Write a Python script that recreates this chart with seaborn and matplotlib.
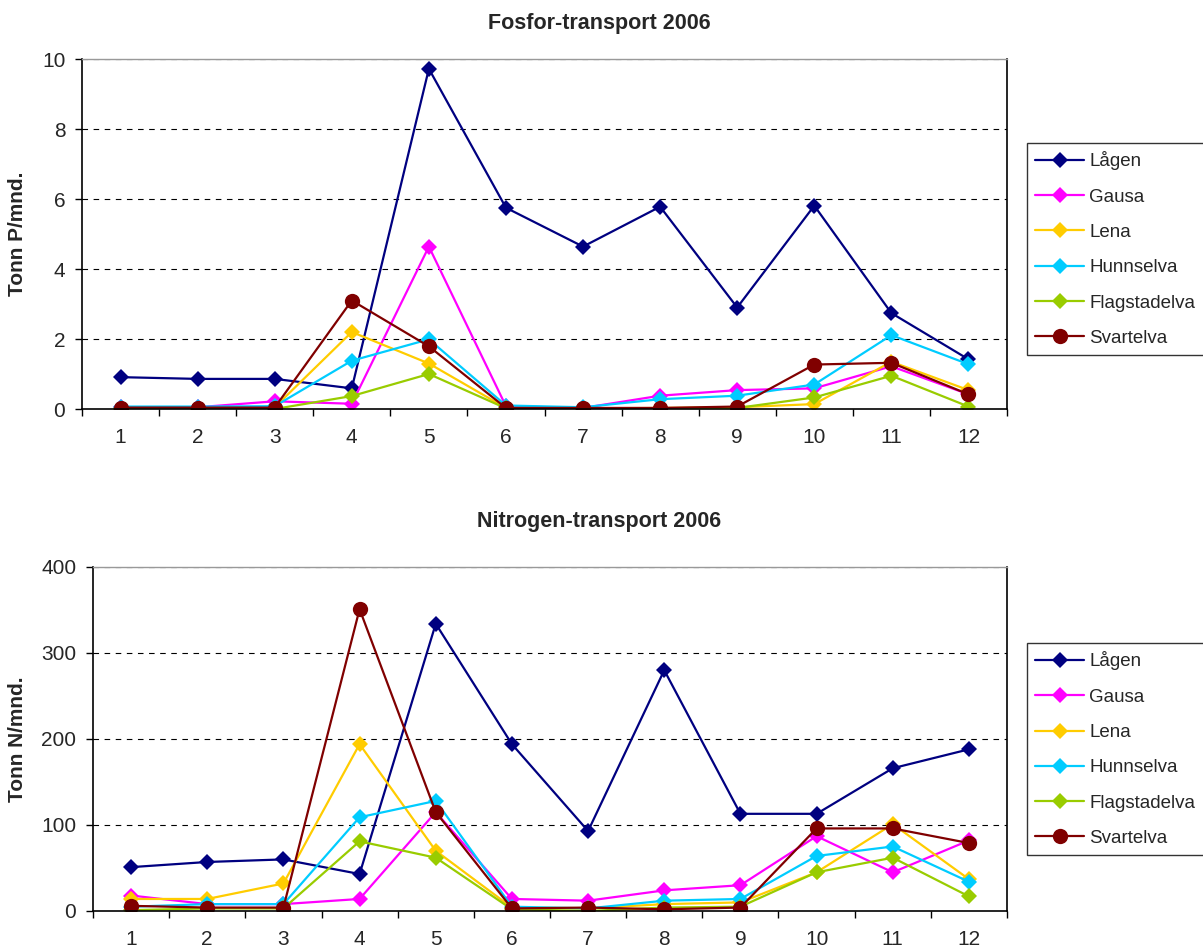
import matplotlib
matplotlib.use("Agg")
import matplotlib.pyplot as plt
import seaborn as sns
import pandas as pd
import numpy as np
from matplotlib.ticker import FixedLocator

sns.set_style("white")
plt.rcParams['font.family'] = ['Liberation Sans', 'DejaVu Sans']

months = list(range(1, 13))
rivers = ["Lågen", "Gausa", "Lena", "Hunnselva", "Flagstadelva", "Svartelva"]

# Fosfor (Tonn P/mnd.)
p_lagen = [0.91, 0.86, 0.86, 0.59, 9.72, 5.75, 4.64, 5.78, 2.90, 5.81, 2.74, 1.42]
p_gausa = [0.05, 0.05, 0.22, 0.15, 4.64, 0.08, 0.03, 0.38, 0.54, 0.59, 1.22, 0.42]
p_lena = [0.02, 0.02, 0.05, 2.20, 1.30, 0.03, 0.02, 0.03, 0.05, 0.14, 1.35, 0.54]
p_hunn = [0.07, 0.07, 0.08, 1.38, 1.99, 0.10, 0.05, 0.28, 0.38, 0.70, 2.11, 1.28]
p_flag = [0.00, 0.00, 0.00, 0.37, 1.00, 0.02, 0.00, 0.02, 0.03, 0.33, 0.95, 0.07]
p_svart = [0.04, 0.04, 0.04, 3.10, 1.79, 0.03, 0.03, 0.03, 0.07, 1.27, 1.32, 0.42]

# Nitrogen (Tonn N/mnd.)
n_lagen = [51, 57, 60, 43, 334, 194, 93, 280, 113, 113, 166, 188]
n_gausa = [18, 8, 8, 14, 115, 14, 12, 24, 30, 87, 45, 82]
n_lena = [14, 14, 32, 194, 70, 4, 3, 8, 10, 45, 101, 37]
n_hunn = [5, 8, 8, 109, 128, 5, 3, 12, 14, 64, 75, 34]
n_flag = [1, 3, 3, 81, 62, 2, 0, 4, 5, 45, 62, 17]
n_svart = [6, 4, 4, 351, 115, 3, 4, 2, 4, 96, 96, 79]

colors = {"Lågen": "#000080", "Gausa": "#FF00FF", "Lena": "#FFCC00",
          "Hunnselva": "#00CCFF", "Flagstadelva": "#99CC00", "Svartelva": "#800000"}
markers = {r: "D" for r in rivers}
markers["Svartelva"] = "o"
msizes = {r: 7.8 for r in rivers}
msizes["Svartelva"] = 11

p_data = [p_lagen, p_gausa, p_lena, p_hunn, p_flag, p_svart]
n_data = [n_lagen, n_gausa, n_lena, n_hunn, n_flag, n_svart]


def make_df(series):
    rows = []
    for r, vals in zip(rivers, series):
        for m, v in zip(months, vals):
            rows.append({"Måned": m, "Verdi": v, "Elv": r})
    return pd.DataFrame(rows)


W, H = 1203, 949
fig = plt.figure(figsize=(W / 100, H / 100), dpi=100)

ax1 = fig.add_axes([82 / W, 1 - 409 / H, (1007 - 82) / W, (409 - 59) / H])
ax2 = fig.add_axes([93 / W, 1 - 911 / H, (1007 - 93) / W, (911 - 567) / H])

TICK_FS = 15
TITLE_FS = 15.5
YLAB_FS = 15
LEG_FS = 13.5


def draw(ax, series, ymax, ystep, ylabel, title, title_y, legend_top):
    df = make_df(series)
    for r in rivers:
        sub = df[df["Elv"] == r]
        sns.lineplot(data=sub, x="Måned", y="Verdi", ax=ax, color=colors[r],
                     marker=markers[r], markersize=msizes[r], markeredgewidth=0,
                     linewidth=1.6, label=r, legend=False)
    ax.set_xlim(0.5, 12.5)
    ax.set_ylim(0, ymax)
    yt = np.arange(0, ymax + ystep / 2, ystep)
    ax.set_yticks(yt)
    ax.set_yticklabels([f"{int(v)}" for v in yt])
    ax.set_xticks(months)
    ax.set_xticklabels([str(m) for m in months])
    ax.xaxis.set_minor_locator(FixedLocator(np.arange(0.5, 13, 1.0)))
    ax.tick_params(axis="x", which="major", length=0, pad=14, labelsize=TICK_FS)
    ax.tick_params(axis="x", which="minor", length=5, width=1, direction="out",
                   color="black", bottom=True)
    ax.tick_params(axis="y", which="major", length=5, width=1, direction="out",
                   color="black", left=True, pad=7, labelsize=TICK_FS)
    for yv in yt[1:]:
        ax.axhline(yv, color="black", linestyle=(0, (5, 5)), linewidth=0.8, zorder=0.5)
    for s in ["left", "right", "bottom"]:
        ax.spines[s].set_visible(True)
        ax.spines[s].set_color("black")
        ax.spines[s].set_linewidth(1.2)
    ax.spines["top"].set_visible(True)
    ax.spines["top"].set_color("#999999")
    ax.spines["top"].set_linewidth(1.0)
    ax.set_xlabel("")
    ax.set_ylabel("")
    ax.grid(False)
    pos = ax.get_position()
    fig.text(18 / W, pos.y0 + pos.height / 2, ylabel, rotation=90, ha="center",
             va="center", fontsize=YLAB_FS, fontweight="bold")
    fig.text(599 / W, 1 - title_y / H, title, ha="center", va="center",
             fontsize=TITLE_FS, fontweight="bold")
    handles, labels = ax.get_legend_handles_labels()
    leg = ax.legend(handles, labels, loc="upper left",
                    bbox_to_anchor=(1027 / W, 1 - legend_top / H),
                    bbox_transform=fig.transFigure, frameon=True, fancybox=False,
                    fontsize=LEG_FS, handlelength=2.6, handletextpad=0.28,
                    labelspacing=0.97, borderpad=0.45, borderaxespad=0)
    leg.get_frame().set_edgecolor("black")
    leg.get_frame().set_linewidth(1.0)


draw(ax1, p_data, 10, 2, "Tonn P/mnd.", "Fosfor-transport 2006", 24, 143)
draw(ax2, n_data, 400, 100, "Tonn N/mnd.", "Nitrogen-transport 2006", 522, 643)

fig.savefig("out.png", dpi=100)
